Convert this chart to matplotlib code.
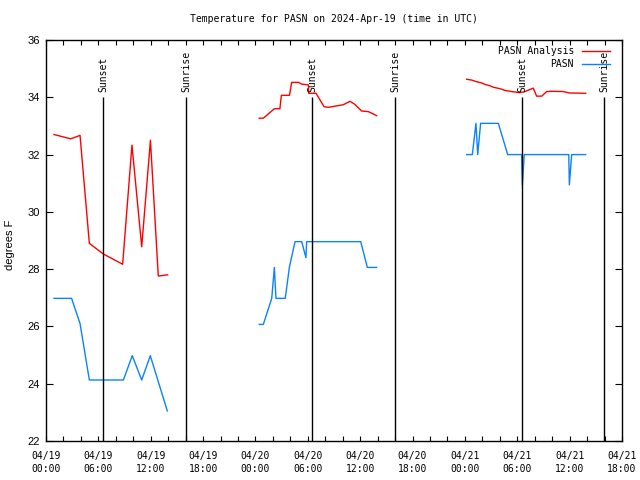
import matplotlib
matplotlib.use('Agg')
import matplotlib.pyplot as plt
import matplotlib.dates as mdates
import pandas as pd
import numpy as np

analysis_times = [
    '2024-04-19 00:55', '2024-04-19 02:50', '2024-04-19 03:54', '2024-04-19 04:58',
    '2024-04-19 06:34', '2024-04-19 08:47', '2024-04-19 09:51', '2024-04-19 10:58',
    '2024-04-19 11:58', '2024-04-19 12:52', '2024-04-19 13:56',
    '2024-04-20 00:26', '2024-04-20 00:54', '2024-04-20 02:10', '2024-04-20 02:48',
    '2024-04-20 02:58', '2024-04-20 03:54', '2024-04-20 04:09', '2024-04-20 04:58',
    '2024-04-20 05:16', '2024-04-20 06:04', '2024-04-20 06:06', '2024-04-20 06:56',
    '2024-04-20 07:52', '2024-04-20 08:22', '2024-04-20 09:18', '2024-04-20 10:04',
    '2024-04-20 10:50', '2024-04-20 11:24', '2024-04-20 12:10', '2024-04-20 12:56',
    '2024-04-20 13:53',
    '2024-04-21 00:12', '2024-04-21 00:47', '2024-04-21 01:16', '2024-04-21 01:55',
    '2024-04-21 02:18', '2024-04-21 02:53', '2024-04-21 03:16', '2024-04-21 04:01',
    '2024-04-21 04:36', '2024-04-21 05:22', '2024-04-21 06:18', '2024-04-21 06:53',
    '2024-04-21 07:50', '2024-04-21 08:13', '2024-04-21 08:48', '2024-04-21 09:22',
    '2024-04-21 09:56', '2024-04-21 11:17', '2024-04-21 11:58', '2024-04-21 13:50',
]
analysis_temps = [
    32.70, 32.55, 32.67, 28.90, 28.53, 28.17, 32.33, 28.78, 32.50, 27.76, 27.80,
    33.27, 33.27, 33.60, 33.60, 34.07, 34.07, 34.52, 34.52, 34.46, 34.43, 34.14,
    34.14, 33.67, 33.65, 33.70, 33.74, 33.86, 33.75, 33.52, 33.50, 33.36,
    34.63, 34.60, 34.55, 34.50, 34.45, 34.40, 34.35, 34.30, 34.24, 34.20, 34.16,
    34.20, 34.32, 34.04, 34.04, 34.20, 34.21, 34.20, 34.15, 34.14,
]

obs_times = [
    '2024-04-19 00:55', '2024-04-19 02:56', '2024-04-19 03:54', '2024-04-19 04:58',
    '2024-04-19 08:52', '2024-04-19 09:53', '2024-04-19 10:58', '2024-04-19 11:57',
    '2024-04-19 13:54',
    '2024-04-20 00:26', '2024-04-20 00:54', '2024-04-20 01:52', '2024-04-20 02:10',
    '2024-04-20 02:21', '2024-04-20 03:25', '2024-04-20 03:53', '2024-04-20 04:32',
    '2024-04-20 05:18', '2024-04-20 05:47', '2024-04-20 05:52', '2024-04-20 12:04',
    '2024-04-20 12:49', '2024-04-20 13:53',
    '2024-04-21 00:12', '2024-04-21 00:51', '2024-04-21 01:16', '2024-04-21 01:28',
    '2024-04-21 01:48', '2024-04-21 03:50', '2024-04-21 04:54', '2024-04-21 06:30',
    '2024-04-21 06:35', '2024-04-21 06:48', '2024-04-21 11:54', '2024-04-21 11:58',
    '2024-04-21 12:14', '2024-04-21 13:50',
]
obs_temps = [
    26.98, 26.98, 26.10, 24.13, 24.13, 24.98, 24.13, 24.98, 23.05,
    26.07, 26.07, 26.98, 28.06, 26.98, 26.98, 28.06, 28.96, 28.96, 28.40, 28.96,
    28.96, 28.06, 28.06,
    32.00, 32.00, 33.09, 32.00, 33.09, 33.09, 32.00, 32.00, 30.94, 32.00, 32.00,
    30.94, 32.00, 32.00,
]

sunset_times = ['2024-04-19 06:32', '2024-04-20 06:31', '2024-04-21 06:35']
sunrise_times = ['2024-04-19 16:02', '2024-04-20 16:02', '2024-04-21 15:59']

mono = 'DejaVu Sans Mono'
sans = 'Liberation Sans'


def with_gaps(times, vals):
    # break the line where no data for a long stretch (overnight gaps)
    t = list(pd.to_datetime(times))
    out_t, out_v = [], []
    for i in range(len(t)):
        if i and t[i] - t[i - 1] > pd.Timedelta(hours=8):
            out_t.append(t[i - 1] + (t[i] - t[i - 1]) / 2)
            out_v.append(np.nan)
        out_t.append(t[i])
        out_v.append(vals[i])
    return out_t, out_v


fig = plt.figure(figsize=(6.4, 4.8), dpi=100)
ax = fig.add_axes([46 / 640, 1 - 441 / 480, 576 / 640, 401 / 480])

at, av = with_gaps(analysis_times, analysis_temps)
ot, ov = with_gaps(obs_times, obs_temps)
ax.plot(at, av, color='#ff0000', lw=1.0, label='PASN Analysis')
ax.plot(ot, ov, color='#0a82ff', lw=1.0, label='PASN')

for name, times in (('Sunset', sunset_times), ('Sunrise', sunrise_times)):
    for t in pd.to_datetime(times):
        ax.vlines(t, 22, 34, color='black', lw=1.0)
        ax.text(t, 34.2, name, rotation=90, ha='center', va='bottom',
                fontsize=7, family=mono)

ax.set_xlim(pd.Timestamp('2024-04-19 00:00'), pd.Timestamp('2024-04-21 18:00'))
ax.set_ylim(22, 36)
ax.set_yticks(range(22, 37, 2))
ax.xaxis.set_major_locator(mdates.HourLocator(byhour=[0, 6, 12, 18]))
ax.xaxis.set_minor_locator(mdates.HourLocator(byhour=range(0, 24, 2)))
ax.xaxis.set_major_formatter(mdates.DateFormatter('%m/%d\n%H:%M'))
ax.tick_params(axis='x', which='both', direction='in', top=True, length=3.5,
               width=0.8, pad=7)
ax.tick_params(axis='y', direction='in', right=True, length=5, width=0.8, pad=4.5)
for lab in ax.get_xticklabels():
    lab.set_family(mono)
    lab.set_fontsize(7)
    lab.set_linespacing(1.35)
for lab in ax.get_yticklabels():
    lab.set_family(sans)
    lab.set_fontsize(8)
for s in ax.spines.values():
    s.set_linewidth(1.0)

fig.text(10 / 640, 1 - 245 / 480, 'degrees F', rotation=90, ha='center',
         va='center', fontsize=8, family=sans)
fig.text(334 / 640, 1 - 19 / 480, 'Temperature for PASN on 2024-Apr-19 (time in UTC)',
         ha='center', va='center', fontsize=7, family=mono)

ax.legend(loc='upper right', bbox_to_anchor=(610 / 640, 1 - 46 / 480),
          bbox_transform=fig.transFigure, frameon=False, markerfirst=False,
          handlelength=2.9, handletextpad=0.8, borderpad=0, borderaxespad=0,
          labelspacing=0.3, prop={'family': mono, 'size': 7})

fig.savefig('out.png', dpi=100)
